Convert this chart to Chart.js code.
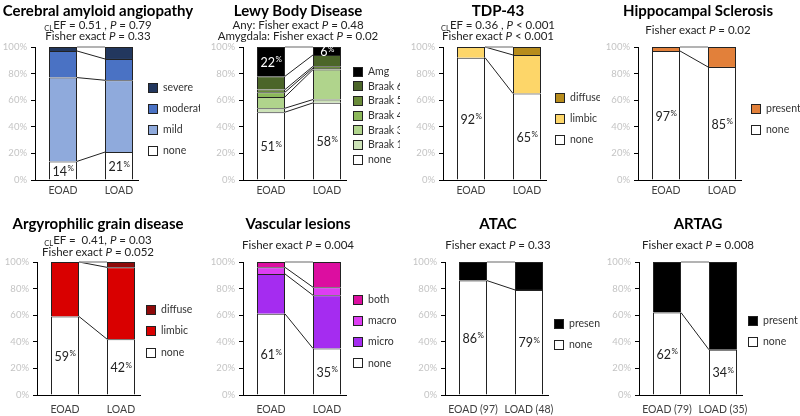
<!DOCTYPE html>
<html><head><meta charset="utf-8">
<script src="https://cdn.jsdelivr.net/npm/chart.js@4/dist/chart.umd.min.js"></script>
<style>
body{margin:0;background:#fff;width:800px;height:416px;position:relative;overflow:hidden;font-family:Lato,sans-serif}
.panel{position:absolute;width:200px;height:208px}
.panel canvas{position:absolute;left:0;top:0}
.ttl{position:absolute;left:0;width:196px;text-align:center;font-weight:bold;font-size:15px;color:#000;white-space:nowrap;line-height:16px}
.sub{position:absolute;left:0;width:196px;text-align:center;font-size:11.5px;color:#222;white-space:nowrap;line-height:12px}
.cl{font-size:7.5px;position:relative;top:2px}
</style></head><body>
<script>
// ---------- data ----------
const groups = ['EOAD', 'LOAD'];
const groupsAtac = ['EOAD (97)', 'LOAD (48)'];
const groupsArtag = ['EOAD (79)', 'LOAD (35)'];
const yTicks = [0, 20, 40, 60, 80, 100];

const caaLevels = ['none', 'mild', 'moderate', 'severe'];
const caaEOAD = [14, 63, 20, 3];
const caaLOAD = [21, 54, 16, 9];

const lbdLevels = ['none', 'Braak 1', 'Braak 3', 'Braak 4', 'Braak 5', 'Braak 6', 'Amg'];
const lbdEOAD = [51, 3, 8.5, 3.5, 2, 10, 22];
const lbdLOAD = [58, 2.5, 22.5, 1.25, 1.25, 8.5, 6];

const tdpLevels = ['none', 'limbic', 'diffuse'];
const tdpEOAD = [92, 8, 0];
const tdpLOAD = [65, 29, 6];

const hsLevels = ['none', 'present'];
const hsEOAD = [97, 3];
const hsLOAD = [85, 15];

const agdLevels = ['none', 'limbic', 'diffuse'];
const agdEOAD = [59, 41, 0];
const agdLOAD = [42, 54, 4];

const vascLevels = ['none', 'micro', 'macro', 'both'];
const vascEOAD = [61, 30, 5, 4];
const vascLOAD = [35, 40, 6, 19];

const atacLevels = ['none', 'present'];
const atacEOAD = [86, 14];
const atacLOAD = [79, 21];

const artagLevels = ['none', 'present'];
const artagEOAD = [62, 38];
const artagLOAD = [34, 66];

// ---------- styles ----------
const caaColors = ['#ffffff', '#8faadc', '#4a72c4', '#22375e'];
const lbdColors = ['#ffffff', '#cde3b8', '#b0d48c', '#8cb85a', '#6a8c3a', '#4b6529', '#000000'];
const tdpColors = ['#ffffff', '#fdd669', '#b78c1c'];
const hsColors = ['#ffffff', '#e2803a'];
const agdColors = ['#ffffff', '#d90000', '#8e0a0a'];
const vascColors = ['#ffffff', '#a52cf0', '#dd3df2', '#dc0ea0'];
const blackColors = ['#ffffff', '#000000'];

const CL = '<span class="cl">CL</span>';
const panels = [
  {x:0, y:0, row:0, axisX:35, title:'Cerebral amyloid angiopathy',
   subs:[CL+'EF = 0.51 , <i>P</i> = 0.79', 'Fisher exact <i>P</i> = 0.33'],
   levels:caaLevels, eoad:caaEOAD, load:caaLOAD, colors:caaColors, cats:groups, leg:[148,87,21], labels:[[0,'#222']]},
  {x:200, y:0, row:0, axisX:43, title:'Lewy Body Disease',
   subs:['Any: Fisher exact <i>P</i> = 0.48', 'Amygdala: Fisher exact <i>P</i> = 0.02'],
   levels:lbdLevels, eoad:lbdEOAD, load:lbdLOAD, colors:lbdColors, cats:groups, leg:[153,71,14.7], labels:[[0,'#222'],[6,'#fff']]},
  {x:400, y:0, row:0, axisX:43, title:'TDP-43',
   subs:[CL+'EF = 0.36 , <i>P</i> &lt; 0.001', 'Fisher exact <i>P</i> &lt; 0.001'],
   levels:tdpLevels, eoad:tdpEOAD, load:tdpLOAD, colors:tdpColors, cats:groups, leg:[155,97,21], labels:[[0,'#222']]},
  {x:600, y:0, row:0, axisX:38, title:'Hippocampal Sclerosis',
   subs:['Fisher exact <i>P</i> = 0.02'],
   levels:hsLevels, eoad:hsEOAD, load:hsLOAD, colors:hsColors, cats:groups, leg:[151,108,21], labels:[[0,'#222']]},
  {x:0, y:208, row:1, axisX:37, title:'Argyrophilic grain disease',
   subs:[CL+'EF =&nbsp; 0.41, <i>P</i> = 0.03', 'Fisher exact <i>P</i> = 0.052'],
   levels:agdLevels, eoad:agdEOAD, load:agdLOAD, colors:agdColors, cats:groups, leg:[146,101,21.5], labels:[[0,'#222']]},
  {x:200, y:208, row:1, axisX:43, title:'Vascular lesions',
   subs:['Fisher exact <i>P</i> = 0.004'],
   levels:vascLevels, eoad:vascEOAD, load:vascLOAD, colors:vascColors, cats:groups, leg:[153,91,21.3], labels:[[0,'#222']]},
  {x:400, y:208, row:1, axisX:45, title:'ATAC',
   subs:['Fisher exact <i>P</i> = 0.33'],
   levels:atacLevels, eoad:atacEOAD, load:atacLOAD, colors:blackColors, cats:groupsAtac, leg:[154,115,21], labels:[[0,'#222']]},
  {x:600, y:208, row:1, axisX:39, title:'ARTAG',
   subs:['Fisher exact <i>P</i> = 0.008'],
   levels:artagLevels, eoad:artagEOAD, load:artagLOAD, colors:blackColors, cats:groupsArtag, leg:[148,112,21], labels:[[0,'#222']]}
];

const PLOT_W = 112;
const FONT = "Lato, sans-serif";

const linkPlugin = {
  id:'links',
  afterDatasetsDraw(chart, args, opts){
    const ctx = chart.ctx, ys = chart.scales.y;
    const n = chart.data.datasets.length;
    const m0 = chart.getDatasetMeta(0).data;
    const xr = m0[0].x + m0[0].width/2, xl = m0[1].x - m0[1].width/2;
    let cE = 0, cL = 0;
    ctx.save();
    ctx.lineWidth = 1; ctx.strokeStyle = '#222';
    for (let k = 0; k < n - 1; k++) {
      cE += chart.data.datasets[k].data[0];
      cL += chart.data.datasets[k].data[1];
      ctx.beginPath();
      ctx.moveTo(xr, ys.getPixelForValue(cE));
      ctx.lineTo(xl, ys.getPixelForValue(cL));
      ctx.stroke();
    }
    ctx.strokeStyle = '#9a9a9a'; ctx.lineWidth = 1.5;
    ctx.beginPath();
    ctx.moveTo(xr, ys.getPixelForValue(100));
    ctx.lineTo(xl, ys.getPixelForValue(100));
    ctx.stroke();
    // value labels
    ctx.textBaseline = 'middle';
    for (const [idx, col] of opts.labels) {
      for (let j = 0; j < 2; j++) {
        let before = 0;
        for (let k = 0; k < idx; k++) before += chart.data.datasets[k].data[j];
        const v = chart.data.datasets[idx].data[j];
        const yc = (ys.getPixelForValue(before) + ys.getPixelForValue(before + v)) / 2;
        const xc = m0[j].x;
        const num = String(Math.round(v));
        ctx.font = '12.5px ' + FONT;
        const w1 = ctx.measureText(num).width;
        ctx.font = '8px ' + FONT;
        const w2 = ctx.measureText('%').width;
        const x0 = xc - (w1 + w2) / 2;
        ctx.fillStyle = col;
        ctx.textAlign = 'left';
        ctx.font = '12.5px ' + FONT;
        ctx.fillText(num, x0, yc + 1);
        ctx.font = '8px ' + FONT;
        ctx.fillText('%', x0 + w1 + 0.5, yc - 2);
      }
    }
    // x axis line
    ctx.strokeStyle = '#000'; ctx.lineWidth = 1;
    ctx.beginPath();
    ctx.moveTo(chart.chartArea.left, Math.round(chart.chartArea.bottom) + 0.5);
    ctx.lineTo(m0[1].x + 20, Math.round(chart.chartArea.bottom) + 0.5);
    ctx.stroke();
    ctx.restore();
  }
};

const legendPlugin = {
  id:'sideLegend',
  afterDraw(chart, args, opts){
    const ctx = chart.ctx;
    const [lx, ly, step] = opts.pos;
    const ds = chart.data.datasets.slice().reverse();
    ctx.save();
    ctx.textBaseline = 'middle'; ctx.textAlign = 'left';
    ctx.font = '10.5px ' + FONT;
    ds.forEach((d, i) => {
      const yc = ly + i * step;
      ctx.fillStyle = d.backgroundColor;
      ctx.fillRect(lx + 0.5, Math.round(yc - 4.5) + 0.5, 9, 9);
      ctx.strokeStyle = '#222'; ctx.lineWidth = 1;
      ctx.strokeRect(lx + 0.5, Math.round(yc - 4.5) + 0.5, 9, 9);
      ctx.fillStyle = '#333';
      ctx.fillText(d.label, lx + 15, yc + 0.5);
    });
    ctx.restore();
  }
};

panels.forEach((p, pi) => {
  const div = document.createElement('div');
  div.className = 'panel';
  div.style.left = p.x + 'px'; div.style.top = p.y + 'px';
  const cv = document.createElement('canvas');
  cv.width = 200; cv.height = 208;
  cv.style.width = '200px'; cv.style.height = '208px';
  div.appendChild(cv);
  const t = document.createElement('div');
  t.className = 'ttl'; t.innerHTML = p.title;
  t.style.top = (p.row === 0 ? 2 : 7) + 'px';
  div.appendChild(t);
  const subTops = p.row === 0
    ? (p.subs.length === 2 ? [19, 30] : [24])
    : (p.subs.length === 2 ? [26, 38] : [31]);
  p.subs.forEach((s, i) => {
    const sd = document.createElement('div');
    sd.className = 'sub'; sd.innerHTML = s; sd.style.top = subTops[i] + 'px';
    div.appendChild(sd);
  });
  document.body.appendChild(div);

  const top = p.row === 0 ? 47 : 54;
  const bottom = p.row === 0 ? 180 : 187;
  new Chart(cv, {
    type:'bar',
    data:{
      labels:p.cats,
      datasets:p.levels.map((lv, i) => ({
        label:lv,
        data:[p.eoad[i], p.load[i]],
        backgroundColor:p.colors[i],
        borderColor:'#222',
        borderWidth:1,
        barPercentage:0.5,
        categoryPercentage:1
      }))
    },
    options:{
      responsive:false,
      animation:false,
      devicePixelRatio:1,
      layout:{padding:{top:top, bottom:208 - bottom - 20, left:0, right:200 - p.axisX - PLOT_W}},
      plugins:{legend:{display:false}, tooltip:{enabled:false},
        links:{labels:p.labels}, sideLegend:{pos:p.leg}},
      scales:{
        x:{stacked:true, grid:{display:false, drawTicks:false}, border:{display:false},
           ticks:{color:'#404040', font:{family:FONT, size:10.5}, padding:p.row === 0 ? 4 : 8,
                  maxRotation:0, minRotation:0, autoSkip:false},
           afterFit(s){ s.height = 20; }},
        y:{stacked:true, min:0, max:100,
           afterBuildTicks(s){ s.ticks = yTicks.map(v => ({value:v})); },
           afterFit(s){ s.width = p.axisX; },
           grid:{drawOnChartArea:false, drawTicks:true, tickLength:4, color:'#000'},
           border:{display:true, color:'#000', width:1},
           ticks:{color:'#c4c4c4', font:{family:FONT, size:9.5}, padding:4,
                  callback:v => v + '%'}}
      }
    },
    plugins:[linkPlugin, legendPlugin]
  });
});
</script>
</body></html>
